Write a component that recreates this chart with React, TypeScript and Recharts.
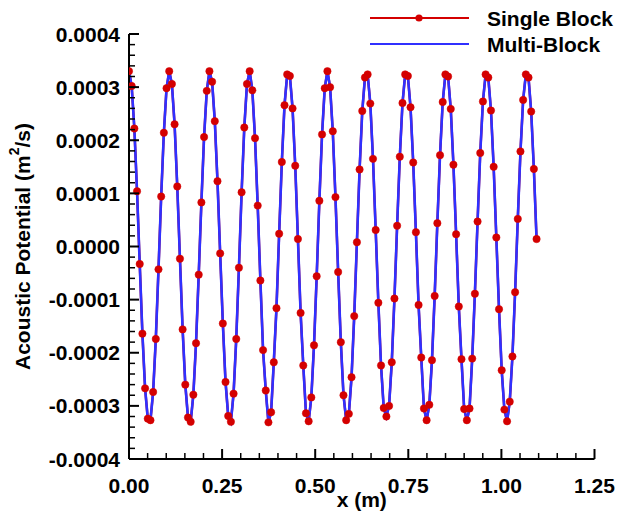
import React from 'react';
import { LineChart, Line, XAxis, YAxis, Legend } from 'recharts';

// x positions of the sampled points (m)
const xPositions = [
  0, 0.0072, 0.0144, 0.0216, 0.0288, 0.036, 0.0432, 0.0504, 0.0576, 0.0648,
  0.072, 0.0792, 0.0864, 0.0936, 0.1008, 0.108, 0.1152, 0.1224, 0.1296, 0.1368,
  0.144, 0.1512, 0.1584, 0.1656, 0.1728, 0.18, 0.1872, 0.1944, 0.2016, 0.2088,
  0.216, 0.2232, 0.2304, 0.2376, 0.2448, 0.252, 0.2592, 0.2664, 0.2736, 0.2808,
  0.288, 0.2952, 0.3024, 0.3096, 0.3168, 0.324, 0.3312, 0.3384, 0.3456, 0.3528,
  0.36, 0.3672, 0.3744, 0.3816, 0.3888, 0.396, 0.4032, 0.4104, 0.4176, 0.4248,
  0.432, 0.4392, 0.4464, 0.4536, 0.4608, 0.468, 0.4752, 0.4824, 0.4896, 0.4968,
  0.504, 0.5112, 0.5184, 0.5256, 0.5328, 0.54, 0.5472, 0.5544, 0.5616, 0.5688,
  0.576, 0.5832, 0.5904, 0.5976, 0.6048, 0.612, 0.6192, 0.6264, 0.6336, 0.6408,
  0.648, 0.6552, 0.6624, 0.6696, 0.6768, 0.684, 0.6912, 0.6984, 0.7056, 0.7128,
  0.72, 0.7272, 0.7344, 0.7416, 0.7488, 0.756, 0.7632, 0.7704, 0.7776, 0.7848,
  0.792, 0.7992, 0.8064, 0.8136, 0.8208, 0.828, 0.8352, 0.8424, 0.8496, 0.8568,
  0.864, 0.8712, 0.8784, 0.8856, 0.8928, 0.9, 0.9072, 0.9144, 0.9216, 0.9288,
  0.936, 0.9432, 0.9504, 0.9576, 0.9648, 0.972, 0.9792, 0.9864, 0.9936, 1.0008,
  1.008, 1.0152, 1.0224, 1.0296, 1.0368, 1.044, 1.0512, 1.0584, 1.0656, 1.0728,
  1.08, 1.0872, 1.0944,
];

// Single Block acoustic potential (m^2/s)
const singleBlockY = [
  3.30e-4, 3.02e-4, 2.22e-4, 1.04e-4, -0.33e-4, -1.64e-4, -2.67e-4, -3.24e-4, -3.27e-4, -2.74e-4,
  -1.74e-4, -0.43e-4, 0.94e-4, 2.14e-4, 2.98e-4, 3.30e-4, 3.06e-4, 2.30e-4, 1.13e-4, -0.23e-4,
  -1.56e-4, -2.60e-4, -3.22e-4, -3.30e-4, -2.79e-4, -1.82e-4, -0.53e-4, 0.83e-4, 2.06e-4, 2.93e-4,
  3.30e-4, 3.10e-4, 2.36e-4, 1.23e-4, -0.13e-4, -1.45e-4, -2.55e-4, -3.19e-4, -3.30e-4, -2.77e-4,
  -1.74e-4, -0.40e-4, 1.02e-4, 2.24e-4, 3.06e-4, 3.30e-4, 2.94e-4, 2.04e-4, 0.77e-4, -0.64e-4,
  -1.95e-4, -2.71e-4, -3.31e-4, -3.12e-4, -2.18e-4, -1.16e-4, 0.24e-4, 1.59e-4, 2.66e-4, 3.24e-4,
  3.21e-4, 2.60e-4, 1.52e-4, 0.14e-4, -1.25e-4, -2.24e-4, -3.14e-4, -3.29e-4, -2.84e-4, -1.86e-4,
  -0.56e-4, 0.86e-4, 2.11e-4, 2.98e-4, 3.30e-4, 3.00e-4, 2.17e-4, 0.93e-4, -0.48e-4, -1.80e-4,
  -2.80e-4, -3.27e-4, -3.15e-4, -2.46e-4, -1.31e-4, 0.08e-4, 1.45e-4, 2.55e-4, 3.18e-4, 3.24e-4,
  2.69e-4, 1.65e-4, 0.31e-4, -1.06e-4, -2.24e-4, -3.04e-4, -3.20e-4, -3.00e-4, -2.18e-4, -0.98e-4,
  0.39e-4, 1.69e-4, 2.70e-4, 3.24e-4, 3.21e-4, 2.62e-4, 1.58e-4, 0.27e-4, -1.10e-4, -2.09e-4,
  -3.05e-4, -3.27e-4, -2.98e-4, -2.14e-4, -0.93e-4, 0.44e-4, 1.72e-4, 2.72e-4, 3.24e-4, 3.20e-4,
  2.59e-4, 1.54e-4, 0.23e-4, -1.13e-4, -2.12e-4, -3.06e-4, -3.27e-4, -3.05e-4, -2.11e-4, -0.89e-4,
  0.47e-4, 1.76e-4, 2.73e-4, 3.24e-4, 3.18e-4, 2.56e-4, 1.50e-4, 0.17e-4, -1.18e-4, -2.33e-4,
  -3.07e-4, -3.29e-4, -2.92e-4, -2.07e-4, -0.86e-4, 0.52e-4, 1.79e-4, 2.76e-4, 3.24e-4, 3.18e-4,
  2.54e-4, 1.46e-4, 0.14e-4,
];

// Multi-Block acoustic potential (m^2/s) - visually coincident with Single Block
const multiBlockY = [
  3.30e-4, 3.02e-4, 2.22e-4, 1.04e-4, -0.33e-4, -1.64e-4, -2.67e-4, -3.24e-4, -3.27e-4, -2.74e-4,
  -1.74e-4, -0.43e-4, 0.94e-4, 2.14e-4, 2.98e-4, 3.30e-4, 3.06e-4, 2.30e-4, 1.13e-4, -0.23e-4,
  -1.56e-4, -2.60e-4, -3.22e-4, -3.30e-4, -2.79e-4, -1.82e-4, -0.53e-4, 0.83e-4, 2.06e-4, 2.93e-4,
  3.30e-4, 3.10e-4, 2.36e-4, 1.23e-4, -0.13e-4, -1.45e-4, -2.55e-4, -3.19e-4, -3.30e-4, -2.77e-4,
  -1.74e-4, -0.40e-4, 1.02e-4, 2.24e-4, 3.06e-4, 3.30e-4, 2.94e-4, 2.04e-4, 0.77e-4, -0.64e-4,
  -1.95e-4, -2.71e-4, -3.31e-4, -3.12e-4, -2.18e-4, -1.16e-4, 0.24e-4, 1.59e-4, 2.66e-4, 3.24e-4,
  3.21e-4, 2.60e-4, 1.52e-4, 0.14e-4, -1.25e-4, -2.24e-4, -3.14e-4, -3.29e-4, -2.84e-4, -1.86e-4,
  -0.56e-4, 0.86e-4, 2.11e-4, 2.98e-4, 3.30e-4, 3.00e-4, 2.17e-4, 0.93e-4, -0.48e-4, -1.80e-4,
  -2.80e-4, -3.27e-4, -3.15e-4, -2.46e-4, -1.31e-4, 0.08e-4, 1.45e-4, 2.55e-4, 3.18e-4, 3.24e-4,
  2.69e-4, 1.65e-4, 0.31e-4, -1.06e-4, -2.24e-4, -3.04e-4, -3.20e-4, -3.00e-4, -2.18e-4, -0.98e-4,
  0.39e-4, 1.69e-4, 2.70e-4, 3.24e-4, 3.21e-4, 2.62e-4, 1.58e-4, 0.27e-4, -1.10e-4, -2.09e-4,
  -3.05e-4, -3.27e-4, -2.98e-4, -2.14e-4, -0.93e-4, 0.44e-4, 1.72e-4, 2.72e-4, 3.24e-4, 3.20e-4,
  2.59e-4, 1.54e-4, 0.23e-4, -1.13e-4, -2.12e-4, -3.06e-4, -3.27e-4, -3.05e-4, -2.11e-4, -0.89e-4,
  0.47e-4, 1.76e-4, 2.73e-4, 3.24e-4, 3.18e-4, 2.56e-4, 1.50e-4, 0.17e-4, -1.18e-4, -2.33e-4,
  -3.07e-4, -3.29e-4, -2.92e-4, -2.07e-4, -0.86e-4, 0.52e-4, 1.79e-4, 2.76e-4, 3.24e-4, 3.18e-4,
  2.54e-4, 1.46e-4, 0.14e-4,
];

const seriesNames = ['Single Block', 'Multi-Block'];

const xMajorTicks = [0, 0.25, 0.5, 0.75, 1.0, 1.25];
const xMajorLabels = ['0.00', '0.25', '0.50', '0.75', '1.00', '1.25'];
const xMinorTicks = [
  0.05, 0.1, 0.15, 0.2, 0.3, 0.35, 0.4, 0.45, 0.55, 0.6,
  0.65, 0.7, 0.8, 0.85, 0.9, 0.95, 1.05, 1.1, 1.15, 1.2,
];
const yMajorTicks = [-0.0004, -0.0003, -0.0002, -0.0001, 0, 0.0001, 0.0002, 0.0003, 0.0004];
const yMajorLabels = ['-0.0004', '-0.0003', '-0.0002', '-0.0001', '0.0000', '0.0001', '0.0002', '0.0003', '0.0004'];
const yMinorTicks = [
  -0.00038, -0.00036, -0.00034, -0.00032, -0.00028, -0.00026, -0.00024, -0.00022,
  -0.00018, -0.00016, -0.00014, -0.00012, -0.00008, -0.00006, -0.00004, -0.00002,
  0.00002, 0.00004, 0.00006, 0.00008, 0.00012, 0.00014, 0.00016, 0.00018,
  0.00022, 0.00024, 0.00026, 0.00028, 0.00032, 0.00034, 0.00036, 0.00038,
];

const RED = '#d40000';
const BLUE = '#3030ff';
const FONT = "'Liberation Sans', Arial, Helvetica, sans-serif";

const data = xPositions.map((x, i) => ({
  x,
  single: singleBlockY[i],
  multi: multiBlockY[i],
}));

const xTicks = [...xMajorTicks, ...xMinorTicks].sort((a, b) => a - b);
const yTicks = [...yMajorTicks, ...yMinorTicks].sort((a, b) => a - b);

const majorIndex = (list: number[], v: number) =>
  list.findIndex((m) => Math.abs(m - v) < 1e-9);

const YTick = (props: any) => {
  const { x, y, payload } = props;
  const idx = majorIndex(yMajorTicks, payload.value);
  const major = idx >= 0;
  return (
    <g>
      <line
        x1={x}
        x2={x + (major ? 10 : 6)}
        y1={y}
        y2={y}
        stroke="#000"
        strokeWidth={major ? 2 : 1.5}
      />
      {major && (
        <text
          x={x - 9}
          y={y}
          dy="0.36em"
          textAnchor="end"
          fontFamily={FONT}
          fontWeight="bold"
          fontSize={21}
          fill="#000"
        >
          {yMajorLabels[idx]}
        </text>
      )}
    </g>
  );
};

const XTick = (props: any) => {
  const { x, y, payload } = props;
  const idx = majorIndex(xMajorTicks, payload.value);
  const major = idx >= 0;
  return (
    <g>
      <line
        x1={x}
        x2={x}
        y1={y}
        y2={y - (major ? 10 : 6)}
        stroke="#000"
        strokeWidth={major ? 2 : 1.5}
      />
      {major && (
        <text
          x={x}
          y={y + 34}
          textAnchor="middle"
          fontFamily={FONT}
          fontWeight="bold"
          fontSize={21}
          fill="#000"
        >
          {xMajorLabels[idx]}
        </text>
      )}
    </g>
  );
};

const XTitle = (props: any) => {
  const vb = props.viewBox || { x: 129, y: 459, width: 465, height: 57 };
  const cx = vb.x + vb.width / 2;
  return (
    <text
      x={cx}
      y={vb.y + 48}
      textAnchor="middle"
      fontFamily={FONT}
      fontWeight="bold"
      fontSize={21}
      fill="#000"
    >
      x (m)
    </text>
  );
};

const YTitle = (props: any) => {
  const vb = props.viewBox || { x: 0, y: 34, width: 129, height: 425 };
  const cx = vb.x + 22;
  const cy = vb.y + vb.height / 2;
  return (
    <text
      x={cx}
      y={cy}
      transform={`rotate(-90, ${cx}, ${cy})`}
      textAnchor="middle"
      dominantBaseline="central"
      fontFamily={FONT}
      fontWeight="bold"
      fontSize={21}
      fill="#000"
    >
      Acoustic Potential (m
      <tspan dy={-8} fontSize={14}>2</tspan>
      <tspan dy={8}>/s)</tspan>
    </text>
  );
};

const LegendContent = () => (
  <svg width={262} height={60} style={{ display: 'block' }}>
    <line x1={2} x2={101} y1={18} y2={18} stroke={RED} strokeWidth={2} />
    <circle cx={51} cy={18} r={3.6} fill={RED} />
    <line x1={2} x2={101} y1={44} y2={44} stroke={BLUE} strokeWidth={2} />
    <text x={119} y={25.5} fontFamily={FONT} fontWeight="bold" fontSize={21} fill="#000">
      {seriesNames[0]}
    </text>
    <text x={119} y={51.5} fontFamily={FONT} fontWeight="bold" fontSize={21} fill="#000">
      {seriesNames[1]}
    </text>
  </svg>
);

export default function App() {
  return (
    <div style={{ position: 'absolute', left: 0, top: 0, width: 630, height: 516, background: '#fff' }}>
      <LineChart
        width={630}
        height={516}
        data={data}
        margin={{ top: 34, right: 35.5, bottom: 0, left: 0 }}
      >
        <XAxis
          dataKey="x"
          type="number"
          domain={[0, 1.25]}
          ticks={xTicks}
          interval={0}
          height={57}
          tickSize={0}
          tickMargin={0}
          tickLine={false}
          axisLine={{ stroke: '#000', strokeWidth: 2 }}
          tick={<XTick />}
          label={{ content: XTitle }}
          allowDataOverflow
        />
        <YAxis
          type="number"
          domain={[-0.0004, 0.0004]}
          ticks={yTicks}
          interval={0}
          width={129}
          tickSize={0}
          tickMargin={0}
          tickLine={false}
          axisLine={{ stroke: '#000', strokeWidth: 2 }}
          tick={<YTick />}
          label={{ content: YTitle }}
          allowDataOverflow
        />
        <Legend
          layout="horizontal"
          verticalAlign="middle"
          align="center"
          content={LegendContent}
          wrapperStyle={{ position: 'absolute', left: 368, top: 0, width: 262, height: 60 }}
        />
        <Line
          name={seriesNames[0]}
          dataKey="single"
          type="linear"
          stroke={RED}
          strokeWidth={2.4}
          dot={{ r: 3.7, fill: RED, stroke: RED, strokeWidth: 0.5 }}
          isAnimationActive={false}
        />
        <Line
          name={seriesNames[1]}
          dataKey="multi"
          type="linear"
          stroke={BLUE}
          strokeWidth={2.6}
          dot={false}
          isAnimationActive={false}
        />
      </LineChart>
    </div>
  );
}
